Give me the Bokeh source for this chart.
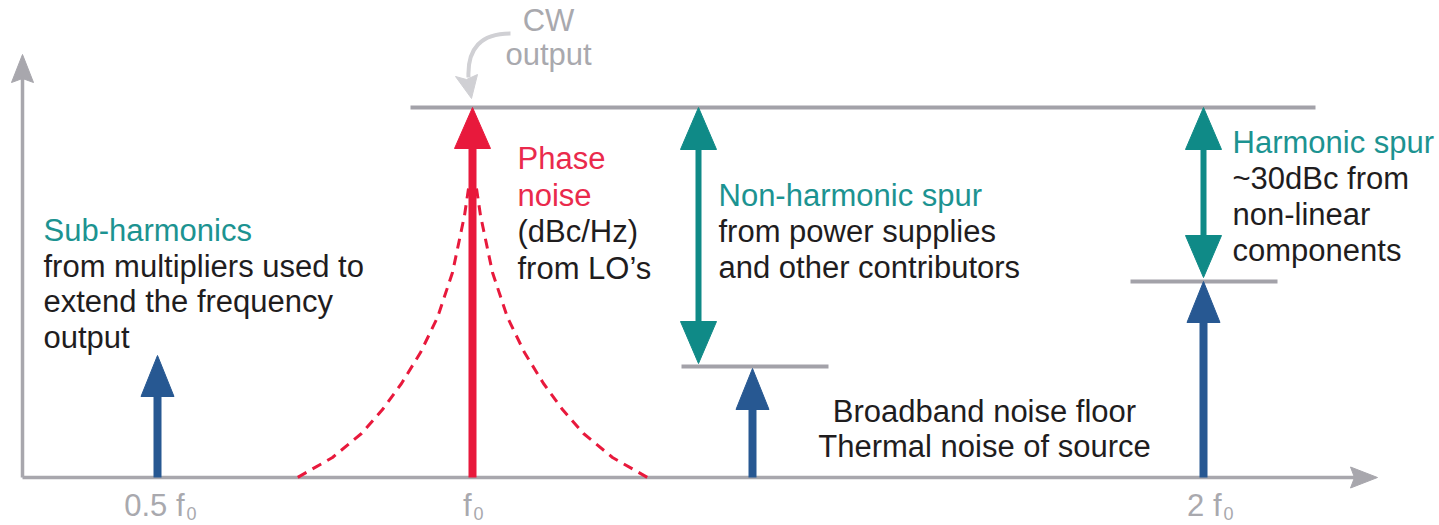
from bokeh.plotting import figure
from bokeh.models import Range1d
from bokeh.core.properties import value
from bokeh.embed import file_html
from bokeh.resources import INLINE

# ---------------- data (schematic values) ----------------
# x: position along the frequency axis, level: height above the baseline
tone_names = ["0.5 f0", "f0", "noise floor", "2 f0"]
tone_x = [135, 450, 730, 1181]
tone_level = [122, 370, 109, 196]

tick_main = ["0.5 f", "f", "2 f"]
tick_sub = ["0", "0", "0"]
tick_x = [135, 450, 1181]

carrier_x = 450
carrier_level = 370
nonharm_x = 676
noise_floor_level = 111
harm_x = 1181
harmonic_level = 196

level_line_x0 = [388, 659, 1108]
level_line_x1 = [1293, 806, 1255]
level_line_y = [370, 111, 196]

phase_noise_offset = [4, 8, 20, 35, 52, 71, 90, 111, 140, 175]
phase_noise_level = [289, 262, 205, 160, 125, 94, 68, 44, 20, 0]

axis_x_end = 1355
axis_y_end = 423

cw_lines = ["CW", "output"]
sub_lines = ["Sub-harmonics", "from multipliers used to", "extend the frequency", "output"]
phase_lines = ["Phase", "noise", "(dBc/Hz)", "from LO\u2019s"]
nonharm_lines = ["Non-harmonic spur", "from power supplies", "and other contributors"]
harm_lines = ["Harmonic spur", "~30dBc from", "non-linear", "components"]
floor_lines = ["Broadband noise floor", "Thermal noise of source"]

# ---------------- styles ----------------
FONT = value("Liberation Sans")
FS = "31px"
TDY = 10  # baseline correction for the text renderer
GRAY_AXIS = "#a8a7ad"
GRAY_LINE = "#a3a2a9"
GRAY_TEXT = "#a9a9ae"
GRAY_CURVE = "#d0d0d4"
BLUE = "#275892"
RED = "#e8193c"
RED_TEXT = "#ea2a4c"
TEAL = "#0f8a87"
TEAL_TEXT = "#1c9391"
BLACK = "#1f1d1e"

p = figure(width=1439, height=525, x_range=Range1d(-22, 1417), y_range=Range1d(-48, 477),
           output_backend="svg", toolbar_location=None, min_border=0,
           min_border_left=0, min_border_right=0, min_border_top=0, min_border_bottom=0)
p.xaxis.visible = False
p.yaxis.visible = False
p.grid.visible = False
p.outline_line_color = None
p.background_fill_color = "white"
p.border_fill_color = "white"


def head(x, tip, direction, length, width, color, notch=0.0):
    base = tip - direction * length
    p.patch([x - width / 2, x, x + width / 2, x], [base, tip, base, base + direction * notch],
            fill_color=color, line_color=color, line_width=1)


def hhead(y, tip, length, width, color, notch=0.0):
    base = tip - length
    p.patch([base, tip, base, base + notch], [y - width / 2, y, y + width / 2, y],
            fill_color=color, line_color=color, line_width=1)


def block(x, y0, lines, colors, align="left", step=35.7, size=FS):
    ys = [y0 + TDY - i * step for i in range(len(lines))]
    p.text(x=[x] * len(lines), y=ys, text=lines, text_color=colors, text_font=FONT,
           text_font_size=size, text_align=align, text_baseline="alphabetic")


# axes
p.segment(x0=[0, 0], y0=[0, 0], x1=[axis_x_end - 20, 0], y1=[0, axis_y_end - 20],
          line_color=GRAY_AXIS, line_width=3.5)
hhead(0, axis_x_end, 27, 21, GRAY_AXIS, notch=4)
head(0, axis_y_end, 1, 28, 22, GRAY_AXIS, notch=4)

# reference level lines
p.segment(x0=level_line_x0, y0=level_line_y, x1=level_line_x1, y1=level_line_y,
          line_color=GRAY_LINE, line_width=4)

# phase noise skirts
left_x = [carrier_x - d for d in phase_noise_offset]
right_x = [carrier_x + d for d in phase_noise_offset]
p.line(left_x, phase_noise_level, line_color=RED, line_width=3, line_dash="10 7")
p.line(right_x, phase_noise_level, line_color=RED, line_width=3, line_dash="10 7")

# tone arrows
tone_colors = [BLUE, RED, BLUE, BLUE]
for x, lvl, c in zip(tone_x, tone_level, tone_colors):
    hl, hw = (41, 36) if c == RED else (41, 33)
    p.segment(x0=[x], y0=[0], x1=[x], y1=[lvl - hl + 2], line_color=c, line_width=8)
    head(x, lvl, 1, hl, hw, c)

# spur double arrows
for x, top, bot in [(nonharm_x, carrier_level, noise_floor_level + 3),
                    (harm_x, carrier_level, harmonic_level + 4)]:
    p.segment(x0=[x], y0=[bot + 38], x1=[x], y1=[top - 38], line_color=TEAL, line_width=6)
    head(x, top, 1, 42, 36, TEAL)
    head(x, bot, -1, 42, 36, TEAL)

# CW output pointer
p.quadratic(x0=[carrier_x + 38], y0=[carrier_level + 74], x1=[carrier_x - 4], y1=[carrier_level + 30],
            cx=[carrier_x - 6], cy=[carrier_level + 74], line_color=GRAY_CURVE, line_width=4)
p.patch([carrier_x - 17, carrier_x - 1, carrier_x + 5, carrier_x - 6],
        [carrier_level + 31, carrier_level + 9, carrier_level + 33, carrier_level + 28],
        fill_color=GRAY_CURVE, line_color=GRAY_CURVE)

# texts
block(carrier_x + 76, carrier_level + 77, cw_lines, [GRAY_TEXT] * 2, align="center", step=34)
block(21, 237, sub_lines, [TEAL_TEXT, BLACK, BLACK, BLACK])
block(carrier_x + 45, 309, phase_lines, [RED_TEXT, RED_TEXT, BLACK, BLACK], step=36.5)
block(nonharm_x + 20, 272, nonharm_lines, [TEAL_TEXT, BLACK, BLACK], step=36)
block(harm_x + 29, 325, harm_lines, [TEAL_TEXT, BLACK, BLACK, BLACK], step=36)
block(962, 56, floor_lines, [BLACK, BLACK], align="center", step=35)

# frequency tick labels
tick_dx = {"0.5 f": 27, "f": -1, "2 f": 18}
for x, m, s in zip(tick_x, tick_main, tick_sub):
    j = x + tick_dx[m]
    p.text(x=[j], y=[-38 + TDY], text=[m], text_color=GRAY_TEXT, text_font=FONT, text_font_size=FS,
           text_align="right", text_baseline="alphabetic")
    p.text(x=[j + 2], y=[-46 + TDY], text=[s], text_color=GRAY_TEXT, text_font=FONT,
           text_font_size="18px", text_align="left", text_baseline="alphabetic")

open("out.html", "w").write(file_html(p, INLINE))
